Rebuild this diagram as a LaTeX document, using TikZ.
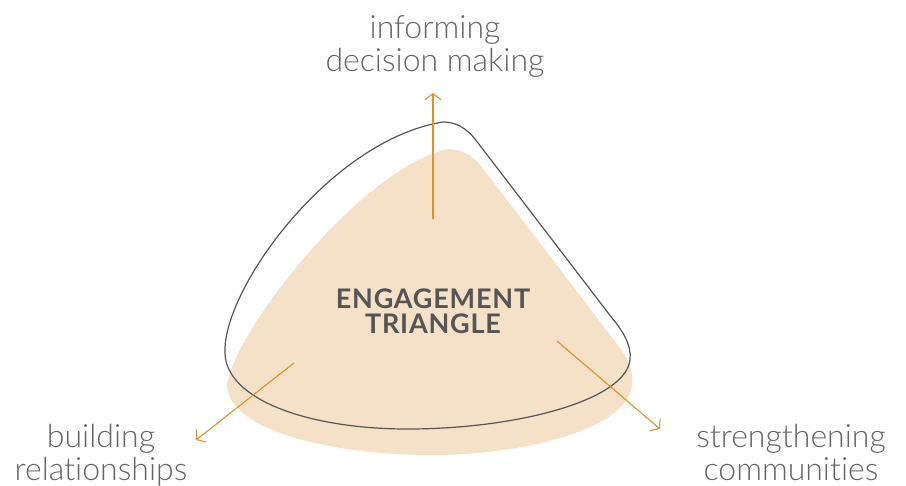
\documentclass[tikz,border=0pt]{standalone}
\usepackage{fontspec}
\setmainfont{Lato}
\newfontfamily\thinfont{Lato}[UprightFont=* Light, Ligatures=NoCommon]
\usepackage{tikz}
\definecolor{sand}{RGB}{245,225,200}
\definecolor{amber}{RGB}{217,146,46}
\definecolor{slate}{RGB}{85,85,85}
\definecolor{ash}{RGB}{100,100,100}
\usetikzlibrary{arrows.meta}
\tikzstyle{outcome} = [align=center, inner sep=0pt, text=ash, font=\thinfont\fontsize{32}{33}\selectfont]
\tikzstyle{heading} = [align=center, inner sep=0pt, text=slate, font=\fontsize{27}{25}\selectfont\bfseries\addfontfeatures{LetterSpace=3}]
\tikzstyle{arrow} = [line width=1.1pt, draw=amber, -{Straight Barb[length=6pt, width=16pt]}]
\tikzstyle{blob} = [fill=sand]
\tikzstyle{rim} = [draw=slate, line width=1.2pt]

\begin{document}
\begin{tikzpicture}[x=1pt, y=-1pt]
        \useasboundingbox (0,0) rectangle (906,486);
        % filled triangle behind
        \fill [blob] (447,149) .. controls (462,149) and (472,155) .. (481,166) -- (620,348)
            .. controls (630,362) and (633,372) .. (632,385) .. controls (628,430) and (520,455) .. (433,455)
            .. controls (330,455) and (228,430) .. (227,385) .. controls (235,330) and (360,170) .. (447,149) -- cycle;
        % outline triangle
        \draw [rim] (443,122) .. controls (456,122) and (466,128) .. (475,139) -- (612,318)
            .. controls (622,330) and (632,345) .. (630,360) .. controls (625,400) and (520,428) .. (413,429)
            .. controls (310,430) and (226,400) .. (225,353) .. controls (222,290) and (330,140) .. (443,122) -- cycle;

        \node (node0) [heading] at (433,311) {ENGAGEMENT\\TRIANGLE};
        \node (node1) [outcome] at (435,47) {informing\\decision making};
        \node (node2) [outcome] at (101,455) {building\\relationships};
        \node (node3) [outcome] at (791,452) {strengthening\\communities};

        \coordinate (node4) at (433,219);
        \coordinate (node5) at (433,93);
        \coordinate (node6) at (294,363);
        \coordinate (node7) at (196,440);
        \coordinate (node8) at (557,341);
        \coordinate (node9) at (660,429);

        \draw [arrow] (node4) -- (node5);
        \draw [arrow] (node6) -- (node7);
        \draw [arrow] (node8) -- (node9);
    \end{tikzpicture}
\end{document}
